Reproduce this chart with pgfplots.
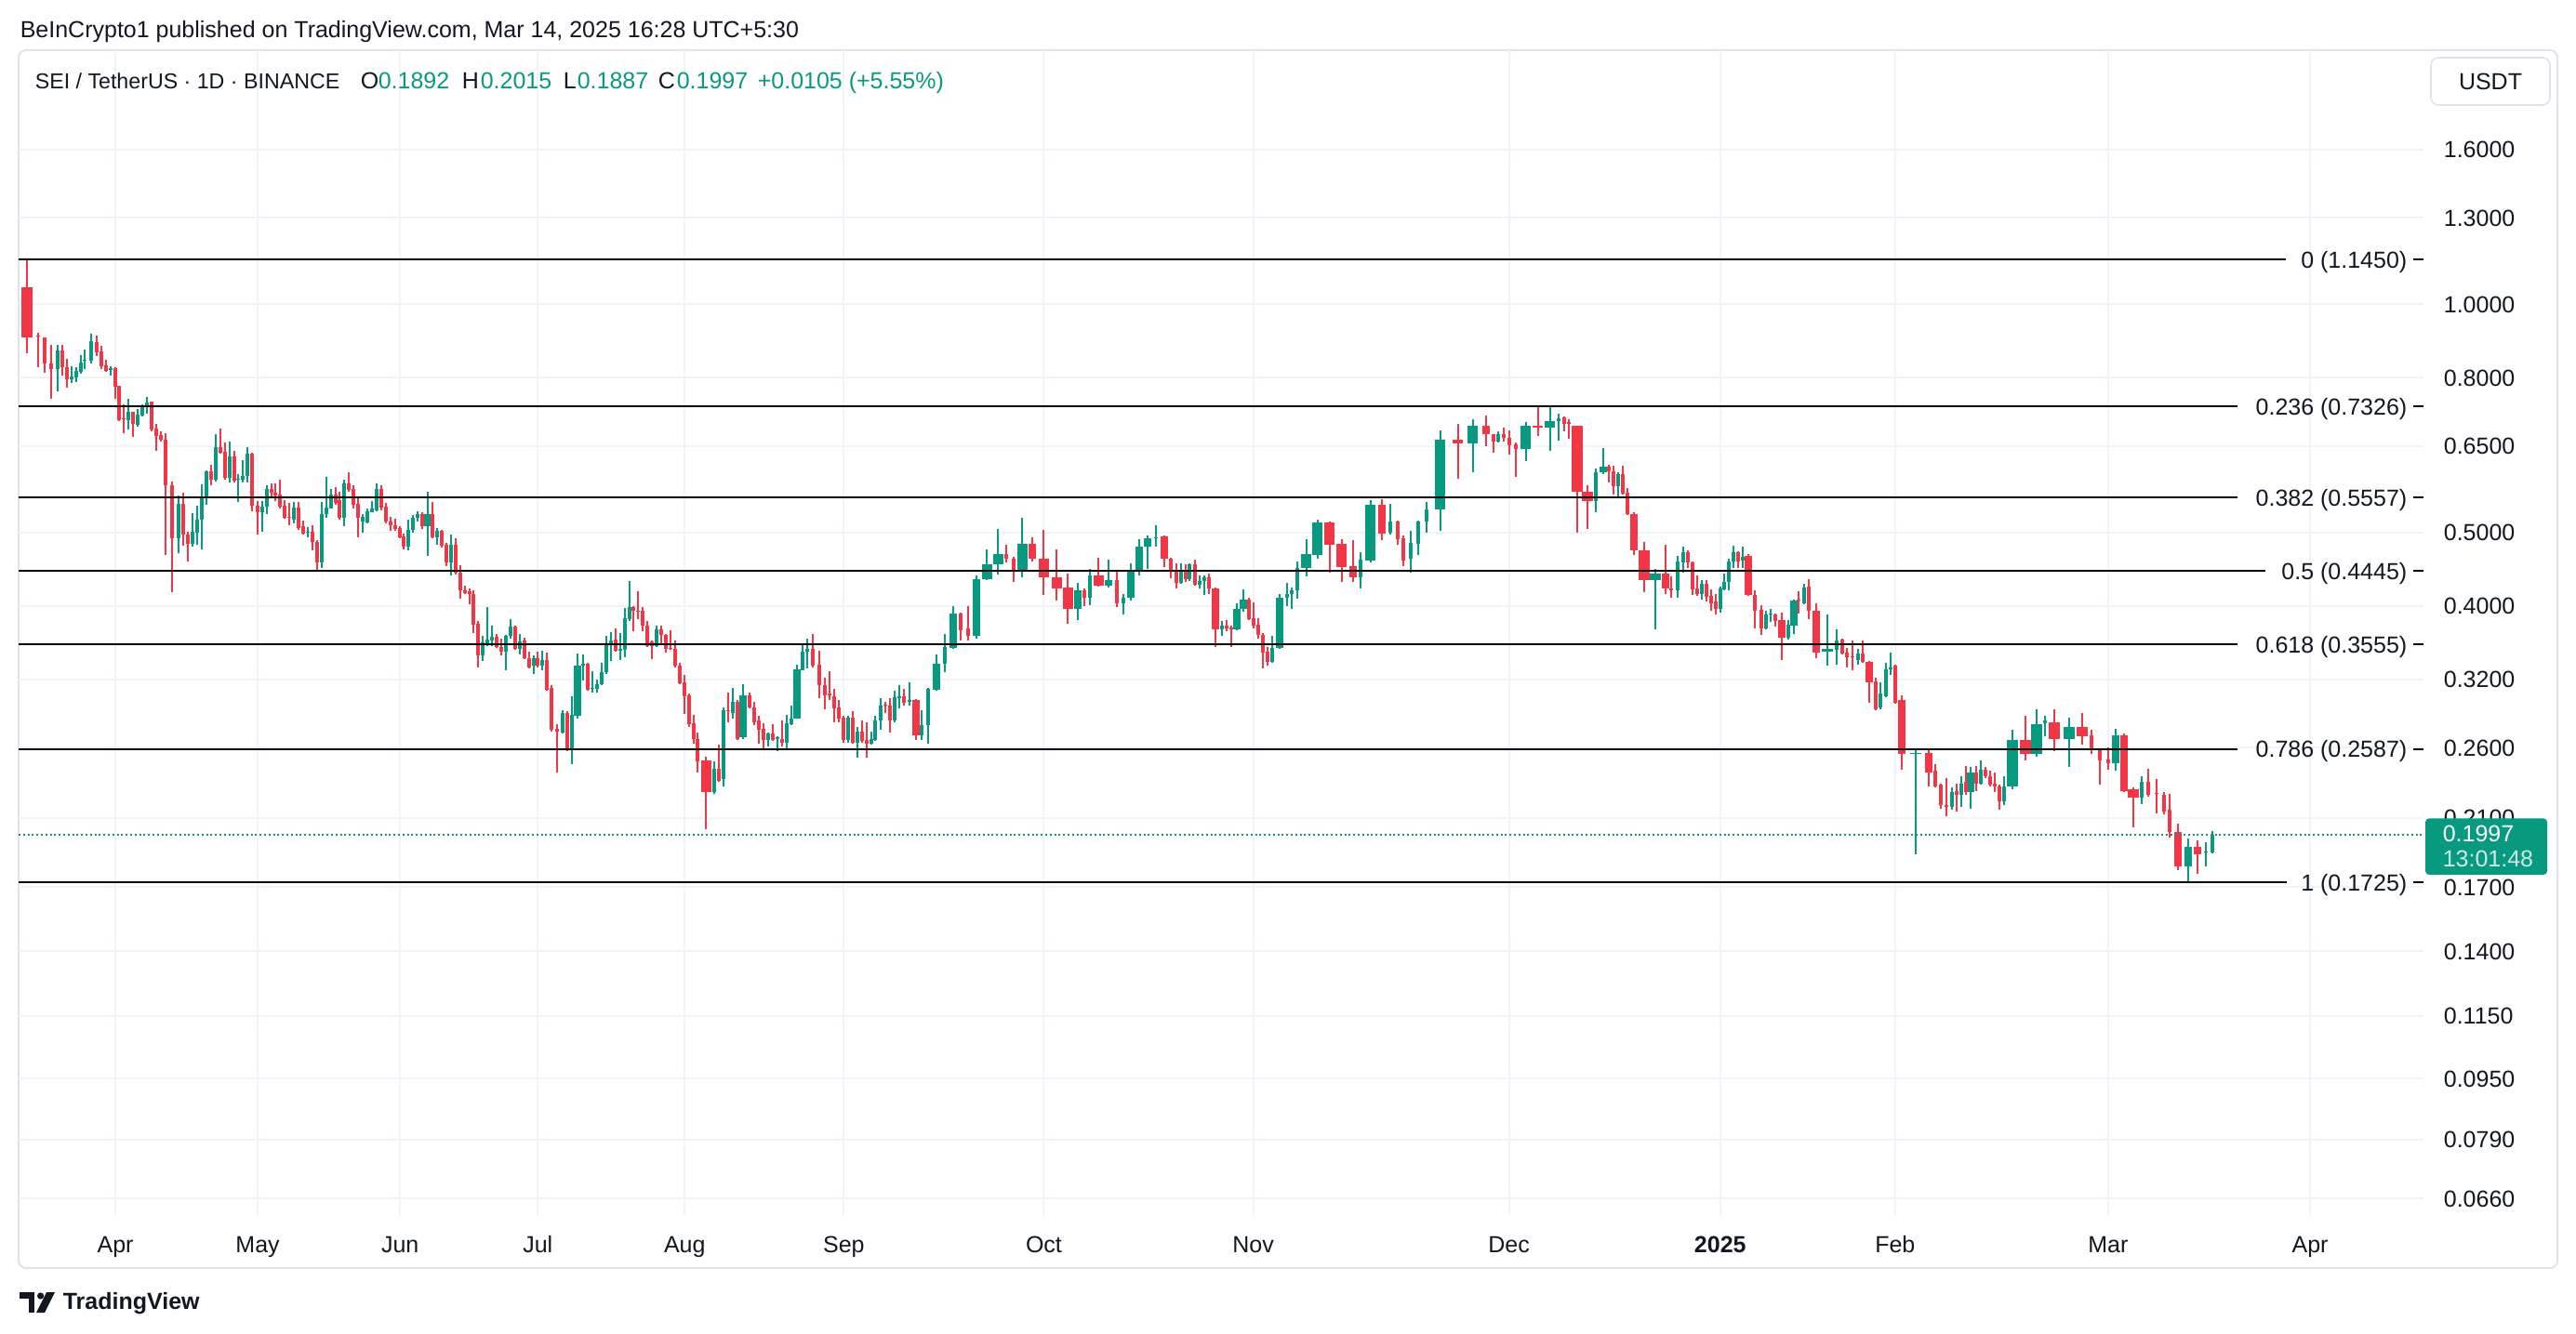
\documentclass[border=0pt]{standalone}
\usepackage{fontspec}
\setmainfont{Liberation Sans}
\usepackage{pgfplots}
\usepackage{pgfplotstable}
\pgfplotsset{compat=1.18}

\definecolor{tvgreen}{HTML}{089981}
\definecolor{tvred}{HTML}{F23645}
\definecolor{tvgrid}{HTML}{F0F3FA}
\definecolor{tvtext}{HTML}{131722}
\definecolor{tvframe}{HTML}{E0E3EB}
\newcommand\tvf{\fontsize{6.25pt}{7.5pt}\selectfont}

% daily candles: x = position on the time scale, open high low close, w = body width class
\pgfplotstableread{
x o h l c w
29 1.053 1.146 0.862 0.905 2
41 0.909 0.916 0.826 0.906 0
48 0.904 0.905 0.811 0.834 0
55 0.836 0.884 0.751 0.820 0
62 0.820 0.884 0.768 0.869 0
67 0.869 0.884 0.805 0.825 0
72 0.826 0.847 0.775 0.795 0
77 0.795 0.828 0.786 0.803 0
82 0.801 0.826 0.790 0.817 0
87 0.814 0.856 0.810 0.838 0
91 0.841 0.871 0.822 0.845 0
98 0.841 0.914 0.834 0.894 0
104 0.892 0.909 0.855 0.865 0
109 0.866 0.881 0.821 0.829 0
114 0.830 0.845 0.814 0.817 0
119 0.819 0.827 0.804 0.824 0
124 0.824 0.826 0.751 0.778 0
128 0.780 0.781 0.701 0.703 0
133 0.707 0.738 0.676 0.704 0
138 0.702 0.750 0.684 0.720 0
143 0.720 0.721 0.668 0.694 0
148 0.693 0.727 0.689 0.715 0
153 0.712 0.738 0.711 0.736 0
158 0.731 0.754 0.716 0.742 0
163 0.743 0.744 0.680 0.683 0
168 0.685 0.694 0.640 0.670 0
173 0.671 0.679 0.658 0.662 0
178 0.663 0.675 0.467 0.576 0
185 0.577 0.584 0.417 0.491 0
192 0.491 0.559 0.469 0.545 0
197 0.545 0.564 0.480 0.496 0
202 0.497 0.501 0.457 0.483 0
207 0.483 0.530 0.479 0.501 0
212 0.500 0.542 0.481 0.520 0
217 0.519 0.579 0.475 0.558 0
222 0.557 0.604 0.544 0.602 0
227 0.602 0.613 0.576 0.587 0
232 0.587 0.673 0.584 0.648 0
237 0.648 0.685 0.635 0.637 0
242 0.639 0.657 0.587 0.590 0
247 0.590 0.659 0.581 0.630 0
252 0.630 0.641 0.581 0.585 0
256 0.586 0.596 0.548 0.588 0
261 0.586 0.623 0.582 0.593 0
266 0.593 0.648 0.582 0.635 0
271 0.635 0.636 0.533 0.542 0
277 0.542 0.550 0.496 0.531 0
282 0.531 0.550 0.501 0.541 0
287 0.540 0.576 0.528 0.571 0
292 0.571 0.580 0.556 0.564 0
296 0.564 0.580 0.549 0.559 0
301 0.561 0.587 0.538 0.540 0
306 0.542 0.551 0.521 0.522 0
311 0.524 0.547 0.511 0.522 0
316 0.520 0.548 0.513 0.539 0
321 0.539 0.548 0.503 0.506 0
326 0.509 0.518 0.497 0.498 0
331 0.499 0.508 0.493 0.501 0
336 0.501 0.511 0.473 0.485 0
341 0.486 0.488 0.445 0.456 0
346 0.456 0.548 0.448 0.528 0
351 0.528 0.592 0.522 0.539 0
356 0.538 0.571 0.537 0.561 0
361 0.561 0.574 0.544 0.547 0
365 0.552 0.566 0.520 0.522 0
370 0.522 0.587 0.510 0.580 0
375 0.580 0.600 0.565 0.569 0
380 0.571 0.577 0.537 0.544 0
385 0.545 0.556 0.493 0.523 0
390 0.516 0.528 0.499 0.524 0
395 0.515 0.538 0.514 0.533 0
400 0.532 0.550 0.531 0.537 0
405 0.535 0.580 0.533 0.571 0
410 0.571 0.577 0.534 0.539 0
415 0.540 0.547 0.514 0.516 0
420 0.517 0.524 0.502 0.511 0
425 0.511 0.521 0.502 0.505 0
430 0.506 0.510 0.491 0.492 0
434 0.494 0.498 0.475 0.478 0
439 0.478 0.520 0.473 0.504 0
444 0.503 0.527 0.499 0.523 0
449 0.522 0.533 0.516 0.528 0
454 0.529 0.532 0.505 0.509 0
460 0.509 0.566 0.465 0.529 1
465 0.529 0.548 0.491 0.493 0
470 0.493 0.506 0.482 0.502 0
475 0.502 0.504 0.477 0.480 0
480 0.482 0.484 0.451 0.456 0
485 0.456 0.497 0.439 0.481 0
490 0.481 0.491 0.440 0.442 0
495 0.442 0.452 0.409 0.419 0
500 0.419 0.425 0.414 0.416 0
505 0.418 0.421 0.402 0.414 0
509 0.415 0.419 0.368 0.378 0
514 0.379 0.382 0.332 0.344 0
519 0.344 0.365 0.338 0.358 0
524 0.357 0.399 0.354 0.361 0
529 0.360 0.376 0.354 0.364 0
534 0.364 0.367 0.352 0.353 0
539 0.353 0.362 0.344 0.348 0
544 0.348 0.366 0.329 0.365 0
549 0.365 0.384 0.362 0.375 0
554 0.375 0.377 0.350 0.351 0
559 0.351 0.367 0.345 0.359 0
564 0.360 0.363 0.340 0.341 0
569 0.341 0.348 0.331 0.332 0
574 0.333 0.344 0.325 0.341 0
578 0.341 0.348 0.332 0.333 0
583 0.333 0.349 0.329 0.339 0
588 0.339 0.347 0.309 0.310 0
593 0.312 0.314 0.273 0.274 0
599 0.275 0.279 0.241 0.273 0
605 0.272 0.291 0.271 0.289 0
610 0.289 0.290 0.257 0.258 0
615 0.258 0.304 0.247 0.287 0
621 0.286 0.346 0.284 0.333 1
627 0.333 0.345 0.319 0.335 0
632 0.335 0.336 0.309 0.310 0
637 0.311 0.328 0.307 0.312 0
642 0.311 0.320 0.307 0.315 0
647 0.315 0.336 0.314 0.327 0
652 0.327 0.365 0.325 0.356 0
657 0.355 0.369 0.338 0.360 0
662 0.361 0.373 0.348 0.349 0
667 0.349 0.368 0.339 0.351 0
672 0.350 0.397 0.342 0.385 0
677 0.384 0.431 0.382 0.399 0
681 0.399 0.400 0.370 0.394 0
686 0.394 0.418 0.384 0.393 0
691 0.394 0.399 0.370 0.376 0
696 0.377 0.382 0.353 0.354 0
701 0.359 0.360 0.340 0.354 0
706 0.354 0.376 0.353 0.372 0
711 0.372 0.376 0.355 0.366 0
716 0.366 0.367 0.347 0.351 0
721 0.352 0.371 0.350 0.351 0
726 0.351 0.360 0.332 0.333 0
731 0.333 0.336 0.315 0.316 0
736 0.317 0.324 0.288 0.304 0
741 0.305 0.306 0.277 0.279 0
746 0.280 0.287 0.263 0.267 0
750 0.267 0.272 0.241 0.249 0
759 0.250 0.253 0.203 0.227 2
768 0.227 0.249 0.226 0.244 0
773 0.244 0.262 0.234 0.235 0
778 0.236 0.294 0.231 0.291 0
783 0.291 0.307 0.281 0.290 0
788 0.289 0.312 0.284 0.299 0
793 0.299 0.300 0.266 0.267 0
799 0.268 0.315 0.267 0.305 1
806 0.305 0.307 0.293 0.294 0
811 0.294 0.299 0.278 0.281 0
816 0.282 0.286 0.263 0.274 0
821 0.275 0.280 0.259 0.266 0
826 0.266 0.272 0.261 0.271 0
831 0.271 0.279 0.265 0.266 0
836 0.267 0.269 0.257 0.268 0
841 0.267 0.282 0.261 0.264 0
846 0.264 0.287 0.259 0.280 0
851 0.279 0.295 0.278 0.284 0
857 0.284 0.334 0.284 0.330 1
863 0.329 0.355 0.329 0.348 0
868 0.348 0.362 0.331 0.351 0
874 0.351 0.367 0.332 0.333 0
881 0.334 0.349 0.302 0.314 0
887 0.314 0.321 0.292 0.305 0
892 0.306 0.328 0.300 0.305 0
897 0.304 0.311 0.281 0.293 0
902 0.294 0.300 0.281 0.284 0
907 0.285 0.286 0.264 0.266 0
912 0.266 0.286 0.264 0.285 0
917 0.285 0.290 0.263 0.264 0
922 0.264 0.277 0.252 0.273 0
927 0.273 0.282 0.264 0.265 0
932 0.266 0.281 0.252 0.263 0
937 0.263 0.273 0.262 0.267 0
941 0.266 0.286 0.265 0.282 0
947 0.282 0.302 0.274 0.295 0
952 0.296 0.299 0.289 0.295 0
957 0.295 0.302 0.272 0.282 0
962 0.282 0.309 0.281 0.303 0
967 0.302 0.314 0.293 0.304 0
972 0.304 0.311 0.295 0.298 0
978 0.299 0.317 0.295 0.300 0
985 0.300 0.301 0.266 0.270 1
991 0.270 0.291 0.266 0.278 0
998 0.278 0.312 0.263 0.311 0
1007 0.310 0.345 0.309 0.335 1
1016 0.335 0.367 0.327 0.353 0
1025 0.352 0.400 0.351 0.391 1
1033 0.391 0.392 0.360 0.371 0
1041 0.373 0.400 0.360 0.365 0
1050 0.365 0.439 0.362 0.434 1
1061 0.433 0.475 0.432 0.453 2
1073 0.453 0.505 0.440 0.468 2
1082 0.468 0.482 0.456 0.461 0
1090 0.462 0.464 0.430 0.446 0
1099 0.446 0.522 0.436 0.483 2
1110 0.483 0.493 0.457 0.461 1
1122 0.462 0.504 0.413 0.436 2
1136 0.436 0.475 0.406 0.422 2
1148 0.423 0.441 0.379 0.396 2
1159 0.396 0.429 0.383 0.419 1
1166 0.419 0.421 0.400 0.410 0
1172 0.410 0.447 0.401 0.439 0
1181 0.439 0.463 0.424 0.425 2
1192 0.425 0.460 0.423 0.432 1
1201 0.432 0.444 0.399 0.403 0
1208 0.403 0.415 0.389 0.410 0
1215 0.410 0.455 0.406 0.446 1
1224 0.446 0.490 0.439 0.478 1
1233 0.478 0.495 0.447 0.491 1
1242 0.491 0.511 0.478 0.493 0
1251 0.494 0.495 0.450 0.461 1
1258 0.462 0.463 0.435 0.444 0
1264 0.446 0.455 0.422 0.429 0
1269 0.429 0.455 0.427 0.446 0
1274 0.446 0.454 0.430 0.434 0
1278 0.434 0.455 0.431 0.453 0
1284 0.454 0.460 0.425 0.426 0
1289 0.426 0.438 0.421 0.431 0
1294 0.431 0.439 0.413 0.436 0
1299 0.436 0.441 0.415 0.421 0
1306 0.421 0.423 0.353 0.372 1
1313 0.372 0.382 0.365 0.377 0
1318 0.377 0.383 0.370 0.373 0
1323 0.374 0.376 0.353 0.372 0
1329 0.372 0.403 0.371 0.396 1
1336 0.396 0.420 0.393 0.408 1
1342 0.408 0.410 0.383 0.384 0
1347 0.385 0.404 0.373 0.377 0
1352 0.378 0.385 0.362 0.366 0
1357 0.366 0.368 0.331 0.347 0
1362 0.348 0.353 0.333 0.337 0
1367 0.337 0.365 0.336 0.352 0
1375 0.352 0.414 0.351 0.410 1
1383 0.410 0.429 0.400 0.415 0
1388 0.415 0.423 0.396 0.419 0
1394 0.419 0.458 0.409 0.449 0
1404 0.449 0.489 0.437 0.468 2
1416 0.467 0.519 0.461 0.515 2
1429 0.515 0.516 0.442 0.482 2
1442 0.483 0.489 0.430 0.450 2
1454 0.451 0.488 0.430 0.436 1
1462 0.436 0.470 0.421 0.460 0
1473 0.459 0.551 0.456 0.544 2
1485 0.544 0.553 0.488 0.498 1
1494 0.500 0.545 0.497 0.517 0
1502 0.517 0.518 0.482 0.490 0
1508 0.491 0.495 0.451 0.459 0
1516 0.461 0.502 0.442 0.484 0
1524 0.483 0.518 0.466 0.517 0
1533 0.516 0.548 0.500 0.536 0
1548 0.536 0.681 0.502 0.662 2
1567 0.662 0.695 0.589 0.655 2
1583 0.655 0.705 0.600 0.692 2
1597 0.692 0.712 0.650 0.673 1
1605 0.673 0.674 0.637 0.659 0
1610 0.659 0.680 0.656 0.673 0
1616 0.673 0.687 0.658 0.666 0
1622 0.666 0.681 0.633 0.652 0
1629 0.653 0.657 0.592 0.644 0
1640 0.644 0.699 0.620 0.692 2
1653 0.692 0.736 0.670 0.688 2
1666 0.688 0.736 0.641 0.700 2
1675 0.700 0.717 0.660 0.707 0
1681 0.708 0.710 0.680 0.694 0
1686 0.698 0.705 0.664 0.694 0
1695 0.691 0.692 0.500 0.565 2
1706 0.566 0.576 0.505 0.549 2
1715 0.549 0.607 0.531 0.600 0
1723 0.600 0.646 0.596 0.610 1
1729 0.611 0.614 0.582 0.601 0
1734 0.601 0.612 0.561 0.575 0
1739 0.575 0.600 0.556 0.596 0
1744 0.596 0.612 0.560 0.563 0
1749 0.564 0.572 0.527 0.528 0
1756 0.529 0.531 0.466 0.473 1
1767 0.473 0.485 0.417 0.432 2
1779 0.432 0.447 0.372 0.441 2
1790 0.441 0.481 0.414 0.421 1
1796 0.422 0.437 0.410 0.419 0
1803 0.419 0.465 0.410 0.458 0
1809 0.456 0.478 0.442 0.471 0
1814 0.471 0.473 0.448 0.456 0
1819 0.456 0.457 0.413 0.420 0
1824 0.421 0.439 0.412 0.415 0
1829 0.415 0.432 0.407 0.427 0
1834 0.427 0.432 0.405 0.411 0
1839 0.412 0.420 0.394 0.403 0
1844 0.405 0.415 0.390 0.396 0
1849 0.396 0.424 0.392 0.421 0
1853 0.420 0.441 0.419 0.430 0
1858 0.430 0.462 0.419 0.458 0
1863 0.457 0.480 0.449 0.471 0
1868 0.471 0.472 0.449 0.458 0
1873 0.459 0.478 0.448 0.464 0
1879 0.465 0.468 0.412 0.413 1
1886 0.413 0.419 0.373 0.394 0
1893 0.395 0.401 0.366 0.373 0
1898 0.373 0.394 0.372 0.390 0
1903 0.389 0.396 0.381 0.391 0
1908 0.390 0.391 0.375 0.382 0
1915 0.383 0.392 0.339 0.363 1
1922 0.363 0.383 0.361 0.378 0
1928 0.377 0.408 0.367 0.406 1
1933 0.408 0.418 0.391 0.406 0
1939 0.403 0.428 0.402 0.423 0
1944 0.424 0.433 0.384 0.394 0
1952 0.394 0.403 0.341 0.347 1
1964 0.348 0.390 0.333 0.351 2
1974 0.350 0.372 0.334 0.360 0
1980 0.361 0.362 0.345 0.346 0
1985 0.347 0.352 0.332 0.342 0
1991 0.343 0.360 0.329 0.342 0
1997 0.339 0.351 0.334 0.346 0
2002 0.346 0.360 0.336 0.337 0
2009 0.337 0.338 0.298 0.317 1
2016 0.318 0.321 0.291 0.292 0
2021 0.294 0.317 0.292 0.306 0
2027 0.304 0.336 0.303 0.330 0
2032 0.330 0.347 0.324 0.332 0
2037 0.333 0.334 0.297 0.298 0
2044 0.300 0.305 0.243 0.255 1
2059 0.255 0.258 0.188 0.256 2
2073 0.256 0.259 0.231 0.241 1
2080 0.242 0.247 0.230 0.231 0
2086 0.232 0.233 0.216 0.218 0
2092 0.218 0.237 0.211 0.217 0
2098 0.217 0.230 0.215 0.227 0
2103 0.228 0.233 0.214 0.225 0
2108 0.225 0.238 0.217 0.233 0
2113 0.234 0.246 0.225 0.227 0
2118 0.227 0.245 0.216 0.241 1
2124 0.241 0.246 0.228 0.233 0
2129 0.233 0.250 0.232 0.243 0
2134 0.243 0.245 0.237 0.238 0
2139 0.238 0.242 0.231 0.232 0
2144 0.233 0.241 0.227 0.231 0
2149 0.231 0.232 0.215 0.221 0
2154 0.221 0.238 0.218 0.231 0
2163 0.231 0.274 0.229 0.266 2
2177 0.266 0.286 0.250 0.255 2
2189 0.255 0.292 0.253 0.279 2
2198 0.280 0.286 0.269 0.282 0
2208 0.281 0.292 0.257 0.267 2
2224 0.267 0.285 0.245 0.277 2
2238 0.277 0.289 0.262 0.269 2
2248 0.270 0.274 0.255 0.258 0
2257 0.258 0.259 0.232 0.250 0
2266 0.251 0.260 0.243 0.248 0
2274 0.248 0.275 0.242 0.270 1
2283 0.270 0.271 0.227 0.228 1
2293 0.229 0.230 0.204 0.223 2
2302 0.223 0.238 0.219 0.234 0
2309 0.234 0.244 0.224 0.225 0
2318 0.2263 0.236 0.213 0.2259 0
2326 0.225 0.227 0.212 0.214 0
2332 0.215 0.226 0.198 0.201 0
2341 0.201 0.206 0.179 0.181 1
2352 0.181 0.197 0.1725 0.192 1
2362 0.192 0.196 0.177 0.188 1
2371 0.1890 0.195 0.181 0.1897 0
2378 0.1892 0.2015 0.1887 0.1997 0
}\candles

\pgfplotsset{
  candle/.style 2 args={draw=none, mark=none, forget plot,
    /pgfplots/error bars/y dir=plus, /pgfplots/error bars/y explicit,
    /pgfplots/error bars/error mark=none,
    /pgfplots/error bars/error bar style={line width=#2, draw=#1, solid}},
}
\tikzset{fib/.style={anchor=base east, inner sep=0pt, font=\tvf, text=tvtext, yshift=-2.25pt}}

\begin{document}
\begin{tikzpicture}
\path[use as bounding box] (0,0) rectangle (692.5pt,358.5pt);
\fill[white] (0,0) rectangle (692.5pt,358.5pt);
\draw[tvframe, line width=0.5pt, rounded corners=2pt] (5pt,17.5pt) rectangle (687.5pt,345pt);

\begin{axis}[at={(5pt,31.75pt)}, anchor=south west, scale only axis,
  width=646.25pt, height=313.25pt,
  xmin=20, xmax=2605, ymode=log, ymin=0.0628, ymax=2.1635,
  axis line style={draw=none}, tick style={draw=none}, major tick length=0pt,
  xtick={124,277,430,578,736,907,1122,1347,1622,1849,2037,2266,2483},
  xticklabels={Apr,May,Jun,Jul,Aug,Sep,Oct,Nov,Dec,\textbf{2025},Feb,Mar,Apr},
  ytick={0.066,0.079,0.095,0.115,0.14,0.17,0.21,0.26,0.32,0.4,0.5,0.65,0.8,1.0,1.3,1.6},
  yticklabels={0.0660,0.0790,0.0950,0.1150,0.1400,0.1700,0.2100,0.2600,0.3200,0.4000,0.5000,0.6500,0.8000,1.0000,1.3000,1.6000},
  yticklabel pos=right,
  xmajorgrids, ymajorgrids, major grid style={color=tvgrid, line width=0.5pt},
  tick label style={font=\tvf, text=tvtext, inner sep=0pt},
  xticklabel style={anchor=base, yshift=-10pt},
  yticklabel style={anchor=base west, xshift=5.25pt, yshift=-2.25pt},
]
% wicks
\addplot[candle={tvred}{0.5pt}, restrict expr to domain={(\thisrow{c}<\thisrow{o})}{0.5:1.5}]
  table[x=x, y=l, y error plus expr={\thisrow{h}-\thisrow{l}}] {\candles};
\addplot[candle={tvgreen}{0.5pt}, restrict expr to domain={(\thisrow{c}<\thisrow{o})}{-0.5:0.5}]
  table[x=x, y=l, y error plus expr={\thisrow{h}-\thisrow{l}}] {\candles};
% bodies: group = 10*red + width class
\addplot[candle={tvgreen}{1.0pt}, restrict expr to domain={(\thisrow{c}<\thisrow{o})*10+\thisrow{w}}{-0.5:0.5}]
  table[x=x, y expr={min(\thisrow{o},\thisrow{c})}, y error plus expr={abs(\thisrow{c}-\thisrow{o})}] {\candles};
\addplot[candle={tvgreen}{2.0pt}, restrict expr to domain={(\thisrow{c}<\thisrow{o})*10+\thisrow{w}}{0.5:1.5}]
  table[x=x, y expr={min(\thisrow{o},\thisrow{c})}, y error plus expr={abs(\thisrow{c}-\thisrow{o})}] {\candles};
\addplot[candle={tvgreen}{2.9pt}, restrict expr to domain={(\thisrow{c}<\thisrow{o})*10+\thisrow{w}}{1.5:2.5}]
  table[x=x, y expr={min(\thisrow{o},\thisrow{c})}, y error plus expr={abs(\thisrow{c}-\thisrow{o})}] {\candles};
\addplot[candle={tvred}{1.0pt}, restrict expr to domain={(\thisrow{c}<\thisrow{o})*10+\thisrow{w}}{9.5:10.5}]
  table[x=x, y expr={min(\thisrow{o},\thisrow{c})}, y error plus expr={abs(\thisrow{c}-\thisrow{o})}] {\candles};
\addplot[candle={tvred}{2.0pt}, restrict expr to domain={(\thisrow{c}<\thisrow{o})*10+\thisrow{w}}{10.5:11.5}]
  table[x=x, y expr={min(\thisrow{o},\thisrow{c})}, y error plus expr={abs(\thisrow{c}-\thisrow{o})}] {\candles};
\addplot[candle={tvred}{2.9pt}, restrict expr to domain={(\thisrow{c}<\thisrow{o})*10+\thisrow{w}}{11.5:12.5}]
  table[x=x, y expr={min(\thisrow{o},\thisrow{c})}, y error plus expr={abs(\thisrow{c}-\thisrow{o})}] {\candles};

% current price
\addplot[tvgreen, line width=0.5pt, dash pattern=on 0.5pt off 0.7pt, forget plot] coordinates {(20,0.1997) (2605,0.1997)};

% fibonacci retracement levels
\addplot[black, line width=0.5pt, forget plot] coordinates {(20,1.145) (2457,1.145)};
\addplot[black, line width=0.5pt, forget plot] coordinates {(20,0.7326) (2405,0.7326)};
\addplot[black, line width=0.5pt, forget plot] coordinates {(20,0.5557) (2405,0.5557)};
\addplot[black, line width=0.5pt, forget plot] coordinates {(20,0.4445) (2435,0.4445)};
\addplot[black, line width=0.5pt, forget plot] coordinates {(20,0.3555) (2405,0.3555)};
\addplot[black, line width=0.5pt, forget plot] coordinates {(20,0.2587) (2405,0.2587)};
\addplot[black, line width=0.5pt, forget plot] coordinates {(20,0.1725) (2458,0.1725)};
\addplot[black, line width=0.5pt, forget plot] coordinates {(2594,1.145) (2605,1.145)};
\addplot[black, line width=0.5pt, forget plot] coordinates {(2594,0.7326) (2605,0.7326)};
\addplot[black, line width=0.5pt, forget plot] coordinates {(2594,0.5557) (2605,0.5557)};
\addplot[black, line width=0.5pt, forget plot] coordinates {(2594,0.4445) (2605,0.4445)};
\addplot[black, line width=0.5pt, forget plot] coordinates {(2594,0.3555) (2605,0.3555)};
\addplot[black, line width=0.5pt, forget plot] coordinates {(2594,0.2587) (2605,0.2587)};
\addplot[black, line width=0.5pt, forget plot] coordinates {(2594,0.1725) (2605,0.1725)};
\node[fib] at (axis cs:2588,1.145) {0 (1.1450)};
\node[fib] at (axis cs:2588,0.7326) {0.236 (0.7326)};
\node[fib] at (axis cs:2588,0.5557) {0.382 (0.5557)};
\node[fib] at (axis cs:2588,0.4445) {0.5 (0.4445)};
\node[fib] at (axis cs:2588,0.3555) {0.618 (0.3555)};
\node[fib] at (axis cs:2588,0.2587) {0.786 (0.2587)};
\node[fib] at (axis cs:2588,0.1725) {1 (0.1725)};
\end{axis}

% header
\node[anchor=base west, inner sep=0pt, font=\tvf, text=tvtext] at (5.25pt,348.4pt)
  {BeInCrypto1 published on TradingView.com, Mar 14, 2025 16:28 UTC+5:30};
\begin{scope}[every node/.style={anchor=base west, inner sep=0pt, font=\tvf}]
\node[text=tvtext, font=\fontsize{5.8pt}{7pt}\selectfont] at (9.25pt,334.6pt) {SEI / TetherUS · 1D · BINANCE};
\node[text=tvtext] at (96.75pt,334.6pt) {O};
\node[text=tvgreen] at (101.5pt,334.6pt) {0.1892};
\node[text=tvtext] at (124pt,334.6pt) {H};
\node[text=tvgreen] at (129pt,334.6pt) {0.2015};
\node[text=tvtext] at (151.25pt,334.6pt) {L};
\node[text=tvgreen] at (155pt,334.6pt) {0.1887};
\node[text=tvtext] at (176.75pt,334.6pt) {C};
\node[text=tvgreen] at (181.75pt,334.6pt) {0.1997};
\node[text=tvgreen] at (203.5pt,334.6pt) {+0.0105 (+5.55\%)};
\end{scope}

% price scale currency
\draw[tvframe, line width=0.4pt, rounded corners=2pt, fill=white] (653.5pt,330.25pt) rectangle (685.5pt,343pt);
\node[inner sep=0pt, font=\tvf, text=tvtext] at (669.5pt,336.6pt) {USDT};

% last price tag (covers the lower part of the 0.2100 label, as in the reference)
\fill[tvgreen, rounded corners=1pt] (652pt,123.25pt) rectangle (684.75pt,138.4pt);
\node[anchor=base west, inner sep=0pt, font=\tvf, text=white] at (656.5pt,132pt) {0.1997};
\node[anchor=base west, inner sep=0pt, font=\tvf, text=white, opacity=0.8] at (656.5pt,125.3pt) {13:01:48};

% TradingView logo
\fill[tvtext] (5.25pt,11pt) rectangle (9.25pt,9.25pt);
\fill[tvtext] (7.75pt,11pt) rectangle (9.25pt,5.5pt);
\fill[tvtext] (10.9pt,10pt) circle (0.9pt);
\fill[tvtext] (12.5pt,11pt) -- (14.75pt,11pt) -- (12pt,5.5pt) -- (9.75pt,5.5pt) -- cycle;
\node[anchor=base west, inner sep=0pt, font=\tvf\bfseries, text=tvtext] at (16.75pt,6.5pt) {TradingView};
\end{tikzpicture}
\end{document}
